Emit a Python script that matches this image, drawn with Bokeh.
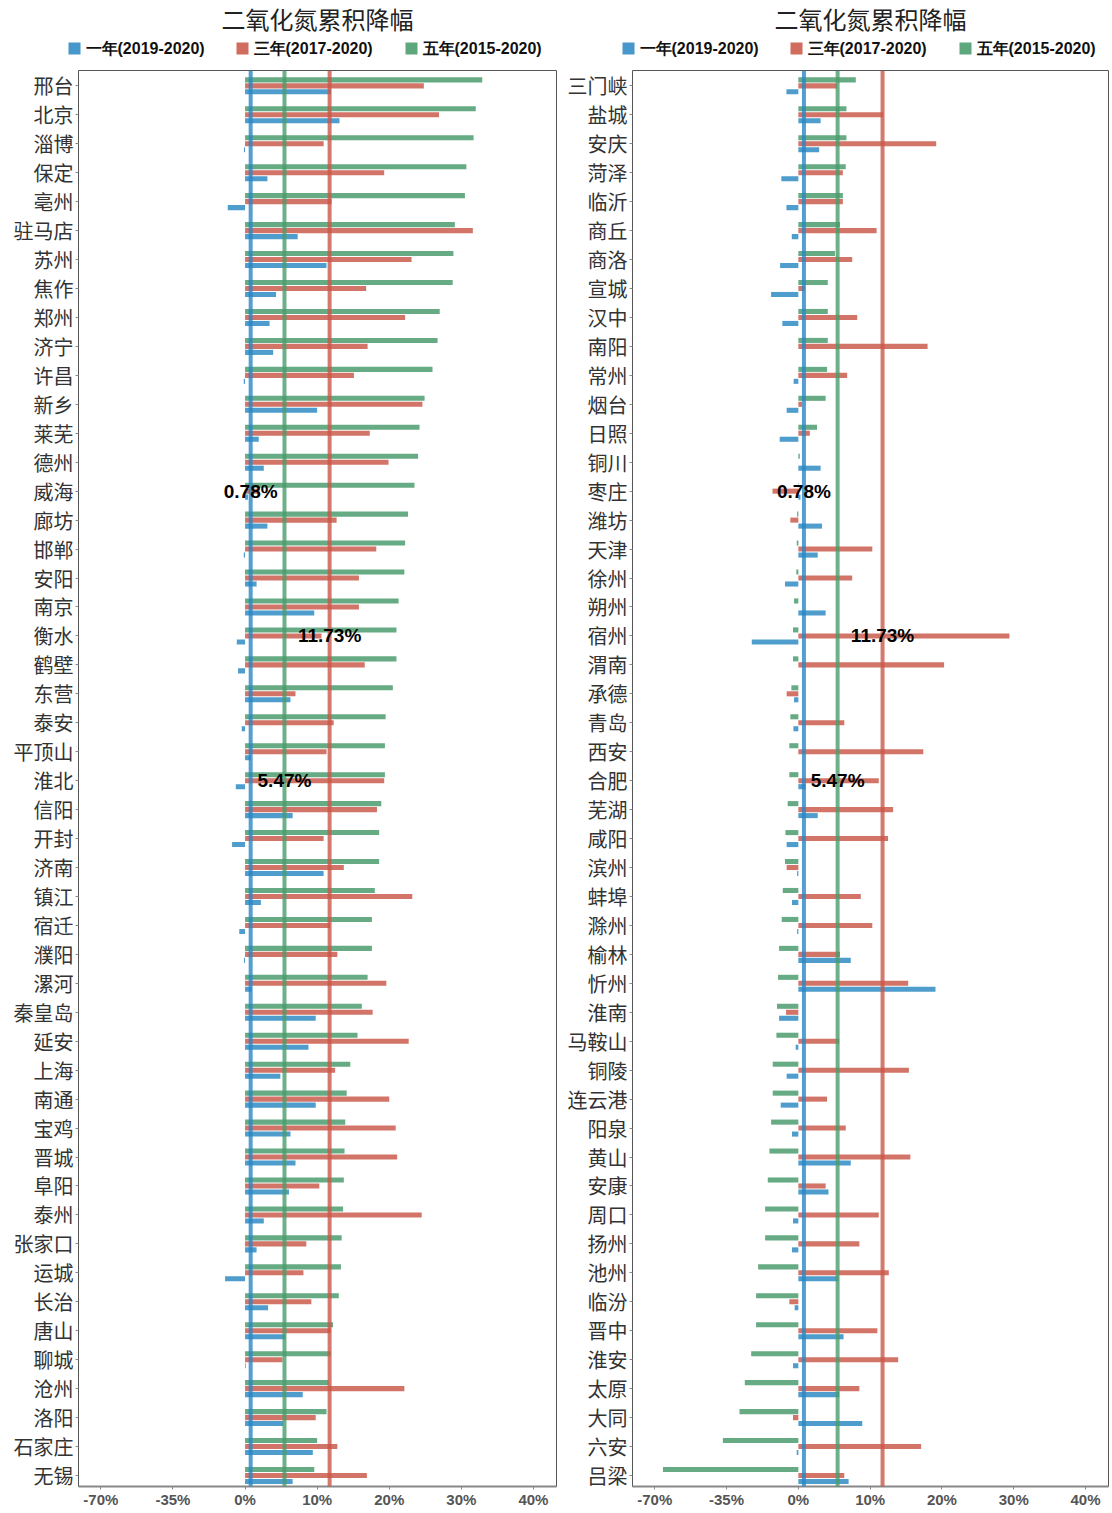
from bokeh.plotting import figure
from bokeh.models import Range1d, FixedTicker, Span, Label, ColumnDataSource
from bokeh.core.properties import value
from bokeh.layouts import row, column
from bokeh.embed import file_html
from bokeh.resources import INLINE

# ---------------- data ----------------
title_text = "二氧化氮累积降幅"
series_names = ["一年(2019-2020)", "三年(2017-2020)", "五年(2015-2020)"]

left_cities = ["邢台", "北京", "淄博", "保定", "亳州", "驻马店", "苏州", "焦作", "郑州", "济宁",
               "许昌", "新乡", "莱芜", "德州", "威海", "廊坊", "邯郸", "安阳", "南京", "衡水",
               "鹤壁", "东营", "泰安", "平顶山", "淮北", "信阳", "开封", "济南", "镇江", "宿迁",
               "濮阳", "漯河", "秦皇岛", "延安", "上海", "南通", "宝鸡", "晋城", "阜阳", "泰州",
               "张家口", "运城", "长治", "唐山", "聊城", "沧州", "洛阳", "石家庄", "无锡"]
left_5y = [32.9, 32.0, 31.7, 30.7, 30.5, 29.1, 28.9, 28.8, 27.0, 26.7,
           26.0, 24.9, 24.2, 24.0, 23.5, 22.6, 22.2, 22.1, 21.3, 21.0,
           21.0, 20.5, 19.5, 19.4, 19.4, 18.9, 18.6, 18.6, 18.0, 17.6,
           17.6, 17.0, 16.2, 15.6, 14.6, 14.1, 13.9, 13.8, 13.7, 13.6,
           13.4, 13.3, 13.0, 12.2, 11.9, 11.6, 11.3, 10.0, 9.6]
left_3y = [24.8, 26.9, 10.9, 19.3, 12.0, 31.6, 23.1, 16.8, 22.2, 17.0,
           15.1, 24.6, 17.3, 19.9, 2.0, 12.7, 18.2, 15.8, 15.8, 10.6,
           16.6, 7.0, 12.3, 11.3, 19.3, 18.3, 10.9, 13.7, 23.2, 11.8,
           12.8, 19.6, 17.7, 22.7, 12.5, 20.0, 20.9, 21.1, 10.3, 24.5,
           8.5, 8.1, 9.2, 11.9, 5.2, 22.1, 9.8, 12.8, 16.9]
left_1y = [11.9, 13.1, -0.5, 3.1, -8.4, 7.3, 11.3, 4.3, 3.4, 3.9,
           -0.6, 10.0, 1.9, 2.6, 0.4, 3.1, -0.6, 1.6, 9.6, -4.0,
           -3.4, 6.3, -1.6, 0.8, -4.5, 6.6, -6.3, 10.9, 2.2, -2.8,
           -0.5, 0.9, 9.8, 8.8, 4.9, 9.8, 6.3, 7.0, 6.1, 2.6,
           1.6, -9.7, 3.2, 5.6, 0.1, 8.0, 5.3, 9.4, 6.6]

right_cities = ["三门峡", "盐城", "安庆", "菏泽", "临沂", "商丘", "商洛", "宣城", "汉中", "南阳",
                "常州", "烟台", "日照", "铜川", "枣庄", "潍坊", "天津", "徐州", "朔州", "宿州",
                "渭南", "承德", "青岛", "西安", "合肥", "芜湖", "咸阳", "滨州", "蚌埠", "滁州",
                "榆林", "忻州", "淮南", "马鞍山", "铜陵", "连云港", "阳泉", "黄山", "安康", "周口",
                "扬州", "池州", "临汾", "晋中", "淮安", "太原", "大同", "六安", "吕梁"]
right_5y = [8.0, 6.7, 6.7, 6.6, 6.2, 5.8, 5.1, 4.1, 4.1, 4.1,
            4.0, 3.8, 2.6, 0.2, -0.2, -0.6, -0.8, -1.0, -2.1, -2.6,
            -2.6, -3.4, -3.9, -4.4, -4.4, -5.2, -6.3, -6.5, -7.6, -8.1,
            -9.4, -9.9, -10.4, -10.7, -12.5, -12.5, -13.3, -14.1, -14.9, -16.2,
            -16.2, -19.6, -20.6, -20.6, -23.0, -26.1, -28.7, -36.8, -66.0]
right_3y = [5.4, 11.8, 19.2, 6.2, 6.2, 10.9, 7.5, 0.9, 8.2, 18.0,
            6.8, 0.5, 1.6, 0.0, -12.6, -3.9, 10.3, 7.5, 0.0, 29.4,
            20.3, -5.7, 6.4, 17.4, 11.2, 13.2, 12.5, -5.7, 8.7, 10.3,
            5.8, 15.3, -6.0, 5.7, 15.4, 4.0, 6.6, 15.6, 3.8, 11.2,
            8.5, 12.6, -4.4, 11.0, 13.9, 8.5, -2.6, 17.1, 6.4]
right_1y = [-5.8, 3.1, 2.9, -8.3, -5.8, -3.2, -8.9, -13.3, -7.8, 0.0,
            -2.3, -5.7, -9.1, 3.1, 0.3, 3.3, 2.7, -6.5, 3.8, -22.7,
            0.0, -2.1, -2.4, 0.0, 1.0, 2.7, -5.7, -0.6, -3.1, -0.6,
            7.3, 19.1, -9.4, -1.3, -5.7, -8.6, -3.1, 7.3, 4.2, -2.6,
            -3.1, 5.6, -1.8, 6.3, -2.6, 5.7, 8.9, -0.8, 7.0]

# mean reference values and the row where each value label sits
ref_values = [0.78, 5.47, 11.73]
ref_label_rows = [14, 24, 19]
x_tick_values = [-70, -35, 0, 10, 20, 30, 40]

# ---------------- style ----------------
NEG_SCALE = 3.5   # negative side of the axis is compressed
C1, C3, C5 = "#4598c9", "#d06d5f", "#5ea77c"
L1, L3, L5 = "#2a86c4", "#c9574a", "#4a9c6c"
CJK = "Noto Sans CJK SC"
LAT = "Liberation Sans"
HEAD_H = 62
FRAME_H = 1416
TOTAL_W = 1112
LEFT_W, RIGHT_W = 560, 552
LEFT_BORDER, RIGHT_BORDER = 78, 72
LEFT_FRAME_W, RIGHT_FRAME_W = 478, 476
LEGEND_OFFSETS = [-4, 164, 333]   # legend key centres, px from each panel frame's left edge


def tr(v):
    return v / NEG_SCALE if v < 0 else v


def make_header():
    h = figure(width=TOTAL_W, height=HEAD_H, x_range=Range1d(0, TOTAL_W), y_range=Range1d(0, HEAD_H),
               output_backend="svg", toolbar_location=None, min_border=0,
               x_axis_type=None, y_axis_type=None)
    h.title.visible = False
    h.xgrid.visible = False
    h.ygrid.visible = False
    h.outline_line_color = None
    frames = [(LEFT_BORDER, LEFT_FRAME_W), (LEFT_W + RIGHT_BORDER, RIGHT_FRAME_W)]
    for fl, fw in frames:
        h.add_layout(Label(x=fl + fw / 2, y=HEAD_H - 18, text=title_text, text_align="center",
                           text_baseline="middle", text_font=CJK, text_font_size="24px",
                           text_color="#222222"))
        kx = [fl + o for o in LEGEND_OFFSETS]
        src = ColumnDataSource(dict(x=kx, tx=[k + 11 for k in kx], y=[HEAD_H - 48] * 3,
                                    color=[C1, C3, C5], name=series_names))
        h.rect(x="x", y="y", width=12, height=12, source=src, fill_color="color", line_color=None)
        h.text(x="tx", y="y", text="name", source=src, text_align="left", text_baseline="middle",
               text_font=value(LAT), text_font_size="16px", text_font_style="bold", text_color="#111111")
    return h


def make_panel(cities, v1, v3, v5, frame_w, border_left, border_right):
    n = len(cities)
    idx = list(range(n))
    off = 0.207
    p = figure(frame_width=frame_w, frame_height=FRAME_H, output_backend="svg", toolbar_location=None,
               x_range=Range1d(-23.1, 43.2), y_range=Range1d(n - 1 + 0.38, -0.53),
               min_border_left=border_left, min_border_right=border_right,
               min_border_top=8, min_border_bottom=0)
    p.title.visible = False
    src = ColumnDataSource(dict(
        y5=[i - off for i in idx], y3=list(idx), y1=[i + off for i in idx],
        x5=[tr(v) for v in v5], x3=[tr(v) for v in v3], x1=[tr(v) for v in v1]))
    h = 0.175
    p.hbar(y="y5", left=0, right="x5", height=h, source=src, fill_color=C5, line_color=None, fill_alpha=0.95)
    p.hbar(y="y3", left=0, right="x3", height=h, source=src, fill_color=C3, line_color=None, fill_alpha=0.95)
    p.hbar(y="y1", left=0, right="x1", height=h, source=src, fill_color=C1, line_color=None, fill_alpha=0.95)

    for val, col in zip(ref_values, [L1, L5, L3]):
        p.add_layout(Span(location=val, dimension="height", line_color=col, line_width=4, line_alpha=0.8))
    for val, r in zip(ref_values, ref_label_rows):
        p.add_layout(Label(x=val, y=r, text=f"{val:.2f}%", text_align="center", text_baseline="middle",
                           text_font=LAT, text_font_size="19px", text_font_style="bold", text_color="black"))

    xt = [tr(t) for t in x_tick_values]
    p.xaxis.ticker = FixedTicker(ticks=xt)
    p.xaxis.major_label_overrides = {tr(t): f"{t}%" for t in x_tick_values}
    p.xaxis.major_label_text_font = LAT
    p.xaxis.major_label_text_font_style = "bold"
    p.xaxis.major_label_text_font_size = "15px"
    p.xaxis.major_label_text_color = "#555555"
    p.xaxis.axis_line_color = "#888888"
    p.xaxis.axis_line_width = 2
    p.xaxis.major_tick_line_color = "#888888"
    p.xaxis.major_tick_out = 3
    p.xaxis.major_tick_in = 0
    p.xaxis.minor_tick_line_color = None
    p.xaxis.major_label_standoff = 1

    p.yaxis.ticker = FixedTicker(ticks=idx)
    p.yaxis.major_label_overrides = {i: c for i, c in enumerate(cities)}
    p.yaxis.major_label_text_font = CJK
    p.yaxis.major_label_text_font_size = "20px"
    p.yaxis.major_label_text_color = "#333333"
    p.yaxis.axis_line_color = None
    p.yaxis.major_tick_line_color = "#888888"
    p.yaxis.major_tick_out = 3
    p.yaxis.major_tick_in = 0
    p.yaxis.minor_tick_line_color = None
    p.yaxis.major_label_standoff = 2

    p.xgrid.visible = False
    p.ygrid.visible = False
    p.outline_line_color = "#555555"
    p.outline_line_width = 1
    p.background_fill_color = "white"
    return p


header = make_header()
p_left = make_panel(left_cities, left_1y, left_3y, left_5y, LEFT_FRAME_W, LEFT_BORDER, 4)
p_right = make_panel(right_cities, right_1y, right_3y, right_5y, RIGHT_FRAME_W, RIGHT_BORDER, 4)

layout = column(header, row(p_left, p_right, spacing=0), spacing=0)
open("out.html", "w").write(file_html(layout, INLINE))
